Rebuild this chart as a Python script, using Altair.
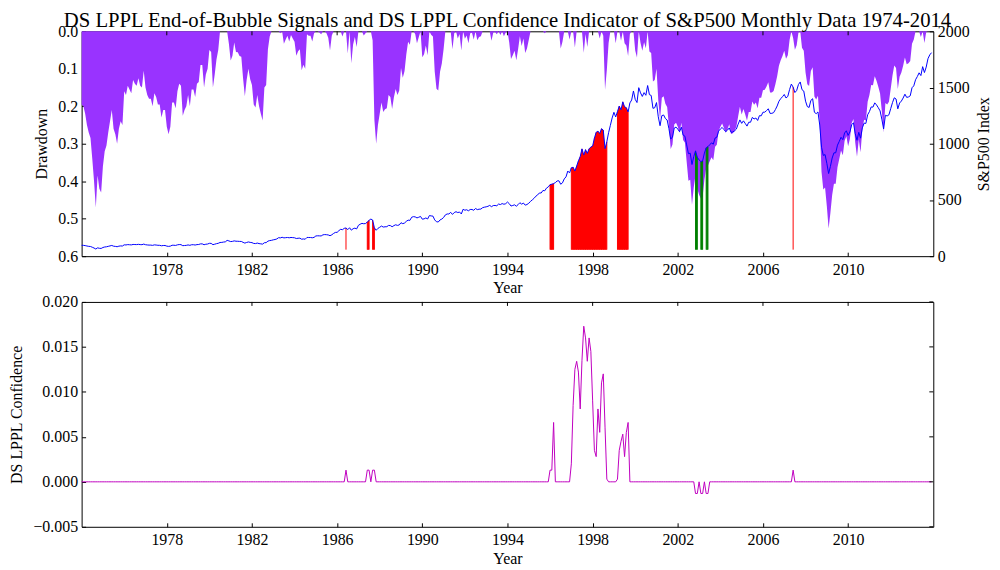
import altair as alt
import pandas as pd

FONT = "Liberation Serif"
START_YEAR = 1974

# ---- S&P500 monthly index, Jan..Dec per row ----
sp500_1974_1983 = [
    96.6, 96.2, 94.0, 90.3, 87.3, 86.0, 79.3, 72.2, 63.5, 73.9, 70.0, 68.6,
    77.0, 81.6, 83.4, 87.3, 91.2, 95.2, 88.8, 86.9, 83.9, 89.0, 91.2, 90.2,
    100.9, 99.7, 102.8, 101.6, 100.2, 104.3, 103.4, 102.9, 105.2, 102.9, 102.1, 107.5,
    102.0, 99.8, 98.4, 98.4, 96.1, 100.5, 98.9, 96.8, 96.5, 92.3, 94.8, 95.1,
    89.3, 87.0, 89.2, 97.0, 97.2, 95.5, 100.7, 103.3, 102.5, 93.2, 94.7, 96.1,
    99.9, 96.3, 101.6, 101.8, 99.1, 102.9, 103.8, 109.3, 109.3, 101.8, 106.2, 107.9,
    114.2, 113.7, 102.1, 106.3, 111.2, 114.2, 121.7, 122.4, 125.5, 127.5, 140.5, 135.8,
    129.6, 131.3, 136.0, 132.8, 132.6, 131.2, 130.9, 122.8, 116.2, 121.9, 126.4, 122.6,
    120.4, 113.1, 112.0, 116.4, 111.9, 109.6, 107.1, 119.5, 120.4, 133.7, 138.5, 140.6,
    145.3, 148.1, 153.0, 164.4, 162.4, 168.1, 162.6, 164.4, 166.1, 163.6, 166.4, 164.9,
]
sp500_1984_1993 = [
    163.4, 157.1, 159.2, 160.1, 150.6, 153.2, 150.7, 166.7, 166.1, 166.1, 163.6, 167.2,
    179.6, 181.2, 180.7, 179.8, 189.6, 191.9, 190.9, 188.6, 182.1, 189.8, 202.2, 211.3,
    211.8, 226.9, 238.9, 235.5, 247.4, 250.8, 236.1, 252.9, 231.3, 244.0, 249.2, 242.2,
    274.1, 284.2, 291.7, 288.4, 290.1, 304.0, 318.7, 329.8, 321.8, 251.8, 230.3, 247.1,
    257.1, 267.8, 258.9, 261.3, 262.2, 273.5, 272.0, 261.5, 271.9, 279.0, 273.7, 277.7,
    297.5, 288.9, 294.9, 309.6, 320.5, 318.0, 346.1, 351.5, 349.2, 340.4, 346.0, 353.4,
    329.1, 331.9, 339.9, 330.8, 361.2, 358.0, 356.2, 322.6, 306.1, 304.0, 322.2, 330.2,
    343.9, 367.1, 375.2, 375.3, 389.8, 371.2, 387.8, 395.4, 387.9, 392.5, 375.2, 417.1,
    408.8, 412.7, 403.7, 415.0, 415.4, 408.1, 424.2, 414.0, 417.8, 418.7, 431.4, 435.7,
    438.8, 443.4, 451.7, 440.2, 450.2, 451.0, 448.1, 463.6, 458.9, 467.8, 461.8, 466.5,
]
sp500_1994_2003 = [
    481.6, 467.1, 445.8, 450.9, 456.5, 444.3, 458.3, 475.5, 462.7, 472.4, 453.7, 459.3,
    470.4, 487.4, 500.7, 514.7, 533.4, 544.8, 562.1, 561.9, 584.4, 581.5, 605.4, 615.9,
    636.0, 640.4, 645.5, 654.2, 669.1, 670.6, 639.9, 652.0, 687.3, 705.3, 757.0, 740.7,
    786.2, 790.8, 757.1, 801.3, 848.3, 885.1, 954.3, 899.5, 947.3, 914.6, 955.4, 970.4,
    980.3, 1049.3, 1101.8, 1111.8, 1090.8, 1133.8, 1120.7, 957.3, 1017.0, 1098.7, 1163.6, 1229.2,
    1279.6, 1238.3, 1286.4, 1335.2, 1301.8, 1372.7, 1328.7, 1320.4, 1282.7, 1362.9, 1389.0, 1469.3,
    1394.5, 1366.4, 1498.6, 1452.4, 1420.6, 1454.6, 1430.8, 1517.7, 1436.5, 1429.4, 1315.0, 1320.3,
    1366.0, 1239.9, 1160.3, 1249.5, 1255.8, 1224.4, 1211.2, 1133.6, 1040.9, 1059.8, 1139.5, 1148.1,
    1130.2, 1106.7, 1147.4, 1076.9, 1067.1, 989.8, 911.6, 916.1, 815.3, 885.8, 936.3, 879.8,
    855.7, 841.2, 848.2, 916.9, 963.6, 974.5, 990.3, 1008.0, 996.0, 1050.7, 1058.2, 1111.9,
]
sp500_2004_2013 = [
    1131.1, 1144.9, 1126.2, 1107.3, 1120.7, 1140.8, 1101.7, 1104.2, 1114.6, 1130.2, 1173.8, 1211.9,
    1181.3, 1203.6, 1180.6, 1156.9, 1191.5, 1191.3, 1234.2, 1220.3, 1228.8, 1207.0, 1249.5, 1248.3,
    1280.1, 1280.7, 1294.8, 1310.6, 1270.1, 1270.2, 1276.7, 1303.8, 1335.9, 1377.9, 1400.6, 1418.3,
    1438.2, 1406.8, 1420.9, 1482.4, 1530.6, 1503.4, 1455.3, 1474.0, 1526.8, 1549.4, 1481.1, 1468.4,
    1378.6, 1330.6, 1322.7, 1385.6, 1400.4, 1280.0, 1267.4, 1282.8, 1166.4, 968.8, 896.2, 903.3,
    825.9, 735.1, 797.9, 872.8, 919.1, 919.3, 987.5, 1020.6, 1057.1, 1036.2, 1095.6, 1115.1,
    1073.9, 1104.5, 1169.4, 1186.7, 1089.4, 1030.7, 1101.6, 1049.3, 1141.2, 1183.3, 1180.6, 1257.6,
    1286.1, 1327.2, 1325.8, 1363.6, 1345.2, 1320.6, 1292.3, 1218.9, 1131.4, 1253.3, 1247.0, 1257.6,
    1312.4, 1365.7, 1408.5, 1397.9, 1310.3, 1362.2, 1379.3, 1406.6, 1440.7, 1412.2, 1416.2, 1426.2,
    1498.1, 1514.7, 1569.2, 1597.6, 1630.7, 1606.3, 1685.7, 1633.0, 1681.6, 1756.5, 1790.0, 1810.0,
]

# ---- Drawdown, Jan..Dec per row ----
drawdown_1974_1983 = [
    0.195, 0.20, 0.22, 0.25, 0.27, 0.285, 0.34, 0.40, 0.47, 0.385, 0.42, 0.43,
    0.36, 0.32, 0.305, 0.27, 0.24, 0.21, 0.26, 0.275, 0.30, 0.26, 0.24, 0.25,
    0.16, 0.17, 0.145, 0.155, 0.165, 0.13, 0.14, 0.145, 0.125, 0.145, 0.15, 0.105,
    0.15, 0.17, 0.18, 0.18, 0.20, 0.165, 0.175, 0.195, 0.195, 0.23, 0.21, 0.21,
    0.255, 0.275, 0.255, 0.19, 0.19, 0.205, 0.16, 0.14, 0.145, 0.225, 0.21, 0.20,
    0.17, 0.20, 0.155, 0.155, 0.175, 0.14, 0.135, 0.09, 0.09, 0.15, 0.115, 0.10,
    0.05, 0.055, 0.15, 0.115, 0.075, 0.05, 0.0, 0.0, 0.0, 0.0, 0.0, 0.033,
    0.078, 0.065, 0.03, 0.055, 0.056, 0.066, 0.068, 0.126, 0.173, 0.13, 0.10, 0.128,
    0.143, 0.195, 0.203, 0.17, 0.20, 0.22, 0.238, 0.15, 0.143, 0.048, 0.014, 0.0,
    0.0, 0.0, 0.0, 0.0, 0.005, 0.0, 0.033, 0.022, 0.012, 0.027, 0.01, 0.019,
]
drawdown_1984_1993 = [
    0.028, 0.065, 0.053, 0.048, 0.104, 0.089, 0.10, 0.008, 0.012, 0.012, 0.027, 0.005,
    0.0, 0.0, 0.003, 0.008, 0.0, 0.0, 0.005, 0.017, 0.051, 0.011, 0.0, 0.0,
    0.0, 0.0, 0.0, 0.014, 0.0, 0.0, 0.059, 0.0, 0.085, 0.035, 0.015, 0.042,
    0.0, 0.0, 0.0, 0.011, 0.005, 0.0, 0.0, 0.0, 0.024, 0.236, 0.30, 0.25,
    0.22, 0.19, 0.215, 0.208, 0.205, 0.17, 0.175, 0.207, 0.176, 0.154, 0.17, 0.158,
    0.098, 0.124, 0.106, 0.061, 0.028, 0.036, 0.0, 0.0, 0.007, 0.032, 0.016, 0.0,
    0.069, 0.061, 0.038, 0.064, 0.0, 0.009, 0.014, 0.107, 0.153, 0.158, 0.108, 0.086,
    0.048, 0.0, 0.0, 0.0, 0.0, 0.048, 0.005, 0.0, 0.019, 0.007, 0.051, 0.0,
    0.02, 0.011, 0.032, 0.005, 0.004, 0.022, 0.0, 0.024, 0.015, 0.013, 0.0, 0.0,
    0.0, 0.0, 0.0, 0.025, 0.003, 0.002, 0.008, 0.0, 0.01, 0.0, 0.013, 0.003,
]
drawdown_1994_2003 = [
    0.0, 0.03, 0.074, 0.064, 0.052, 0.077, 0.048, 0.013, 0.039, 0.019, 0.058, 0.046,
    0.023, 0.0, 0.0, 0.0, 0.0, 0.0, 0.0, 0.0, 0.0, 0.005, 0.0, 0.0,
    0.0, 0.0, 0.0, 0.0, 0.0, 0.0, 0.046, 0.028, 0.0, 0.0, 0.0, 0.022,
    0.0, 0.0, 0.043, 0.0, 0.0, 0.0, 0.0, 0.057, 0.007, 0.042, 0.0, 0.0,
    0.0, 0.0, 0.0, 0.0, 0.019, 0.0, 0.012, 0.156, 0.103, 0.031, 0.0, 0.0,
    0.0, 0.032, 0.0, 0.0, 0.025, 0.0, 0.032, 0.038, 0.066, 0.007, 0.0, 0.0,
    0.051, 0.07, 0.0, 0.031, 0.052, 0.029, 0.045, 0.0, 0.054, 0.058, 0.134, 0.13,
    0.10, 0.183, 0.235, 0.177, 0.173, 0.193, 0.202, 0.253, 0.314, 0.302, 0.249, 0.244,
    0.255, 0.271, 0.244, 0.29, 0.297, 0.348, 0.399, 0.396, 0.463, 0.416, 0.383, 0.42,
    0.436, 0.446, 0.441, 0.396, 0.365, 0.358, 0.347, 0.336, 0.344, 0.308, 0.303, 0.267,
]
drawdown_2004_2013 = [
    0.255, 0.246, 0.258, 0.27, 0.262, 0.248, 0.274, 0.272, 0.266, 0.255, 0.227, 0.201,
    0.222, 0.207, 0.222, 0.238, 0.215, 0.215, 0.187, 0.196, 0.19, 0.205, 0.177, 0.177,
    0.157, 0.156, 0.147, 0.136, 0.163, 0.163, 0.159, 0.141, 0.12, 0.092, 0.077, 0.066,
    0.052, 0.073, 0.064, 0.023, 0.0, 0.018, 0.049, 0.037, 0.003, 0.0, 0.044, 0.052,
    0.11, 0.141, 0.146, 0.106, 0.096, 0.174, 0.182, 0.172, 0.247, 0.375, 0.422, 0.417,
    0.467, 0.526, 0.485, 0.437, 0.407, 0.407, 0.363, 0.341, 0.318, 0.331, 0.293, 0.28,
    0.307, 0.287, 0.245, 0.234, 0.297, 0.335, 0.289, 0.323, 0.263, 0.236, 0.238, 0.188,
    0.17, 0.143, 0.144, 0.12, 0.132, 0.148, 0.166, 0.213, 0.27, 0.191, 0.195, 0.188,
    0.153, 0.118, 0.091, 0.098, 0.154, 0.121, 0.11, 0.092, 0.07, 0.088, 0.085, 0.079,
    0.033, 0.022, 0.0, 0.0, 0.0, 0.015, 0.0, 0.031, 0.002, 0.0, 0.0, 0.0,
]

# ---- DS LPPL confidence (zero in all other months) ----
conf_months = [
    "1986-06", "1987-06", "1987-07", "1987-09", "1987-10",
    "1996-01", "1996-02", "1996-03",
    "1997-01", "1997-02", "1997-03", "1997-04", "1997-05", "1997-06",
    "1997-07", "1997-08", "1997-09", "1997-10", "1997-11", "1997-12",
    "1998-01", "1998-02", "1998-03", "1998-04", "1998-05", "1998-06",
    "1998-07", "1998-08", "1998-09",
    "1999-03", "1999-04", "1999-05", "1999-06", "1999-07", "1999-08", "1999-09",
    "2002-11", "2002-12", "2003-02", "2003-03", "2003-05", "2003-06",
    "2007-06",
]
conf_values = [
    0.0013, 0.0013, 0.0013, 0.0013, 0.0013,
    0.0013, 0.0013, 0.0066,
    0.0020, 0.0085, 0.0125, 0.0134, 0.0122, 0.0081,
    0.0135, 0.0173, 0.0160, 0.0134, 0.0160, 0.0145,
    0.0090, 0.0035, 0.0028, 0.0081, 0.0055, 0.0110,
    0.0120, 0.0060, 0.0003,
    0.0003, 0.0035, 0.0045, 0.0053, 0.0028, 0.0055, 0.0066,
    -0.0013, -0.0013, -0.0013, -0.0013, -0.0013, -0.0013,
    0.0013,
]

year_ticks = [1978, 1982, 1986, 1990, 1994, 1998, 2002, 2006, 2010]
dd_ticks = [0.0, 0.1, 0.2, 0.3, 0.4, 0.5, 0.6]
sp_ticks = [0, 500, 1000, 1500, 2000]
conf_ticks = [-0.005, 0.0, 0.005, 0.010, 0.015, 0.020]
SIGNAL_BASE = 58

TITLE = ("DS LPPL End-of-Bubble Signals and DS LPPL Confidence Indicator "
         "of S&P500 Monthly Data 1974-2014")

# ---- assemble table ----
sp = sp500_1974_1983 + sp500_1984_1993 + sp500_1994_2003 + sp500_2004_2013
dd = drawdown_1974_1983 + drawdown_1984_1993 + drawdown_1994_2003 + drawdown_2004_2013
n = len(sp)
t = [START_YEAR + i / 12.0 for i in range(n)]
conf_map = {}
for m, v in zip(conf_months, conf_values):
    y, mo = m.split("-")
    conf_map[(int(y) - START_YEAR) * 12 + int(mo) - 1] = v
conf = [conf_map.get(i, 0.0) for i in range(n)]
df = pd.DataFrame({"t": t, "price": sp, "dd": dd, "conf": conf})

# contiguous signal runs
sign = [1 if c > 0 else (-1 if c < 0 else 0) for c in conf]
run, rid = [], 0
for i, s in enumerate(sign):
    if i > 0 and s != sign[i - 1]:
        rid += 1
    run.append(rid)
df["run"] = run
df["sign"] = sign
red_df = df[df["sign"] > 0]
green_df = df[df["sign"] < 0]

W, H = 856, 226
ax_common = dict(labelFont=FONT, titleFont=FONT, labelFontSize=16, titleFontSize=16,
                 titleFontWeight="normal", labelColor="black", titleColor="black",
                 tickColor="black", domain=False, grid=False, tickSize=4, offset=-4)

x_axis = alt.Axis(values=year_ticks, format="d", title="Year", labelPadding=5,
                  titlePadding=3, **ax_common)
x_scale = alt.Scale(domain=[1974, 2014], nice=False, zero=False)
X = alt.X("t:Q", scale=x_scale, axis=x_axis)

dd_axis = alt.Axis(values=dd_ticks, format=".1f", title="Drawdown", labelPadding=4,
                   titlePadding=8, **ax_common)
sp_axis = alt.Axis(values=sp_ticks, format="d", title="S&P500 Index", orient="right",
                   labelPadding=4, titlePadding=6, titleAngle=270, titleBaseline="top",
                   **ax_common)
sp_scale = alt.Scale(domain=[0, 2000], nice=False, zero=False)

dd_area = alt.Chart(df).mark_area(color="#9933ff", opacity=1).encode(
    x=X,
    y=alt.Y("dd:Q", scale=alt.Scale(domain=[0, 0.6], reverse=True, nice=False, zero=False),
            axis=dd_axis),
    y2=alt.datum(0),
)

def sig_layers(d, color):
    area = alt.Chart(d).mark_area(color=color, opacity=1).encode(
        x=X, y=alt.Y("price:Q", scale=sp_scale, axis=sp_axis),
        y2=alt.datum(SIGNAL_BASE), detail="run:N")
    rule = alt.Chart(d).mark_rule(color=color, strokeWidth=1).encode(
        x=X, y=alt.Y("price:Q", scale=sp_scale, axis=sp_axis),
        y2=alt.datum(SIGNAL_BASE))
    return [area, rule]

price_line = alt.Chart(df).mark_line(color="#0000ff", strokeWidth=1).encode(
    x=X, y=alt.Y("price:Q", scale=sp_scale, axis=sp_axis))

tick_df = pd.DataFrame({"t": year_ticks})
top_ticks = alt.Chart(tick_df).mark_rule(color="black", strokeWidth=1).encode(
    x=X, y=alt.value(0), y2=alt.value(4))

right_group = alt.layer(*sig_layers(red_df, "#ff0000"), *sig_layers(green_df, "#008000"),
                        price_line, top_ticks)

top = alt.layer(dd_area, right_group).resolve_scale(y="independent").properties(
    width=W, height=H)

# ---- bottom panel ----
conf_axis = alt.Axis(values=conf_ticks, format=".3f", title="DS LPPL Confidence",
                     labelPadding=4, titlePadding=8, **ax_common)
conf_scale = alt.Scale(domain=[-0.005, 0.020], nice=False, zero=False)
conf_line = alt.Chart(df).mark_line(color="#bf00bf", strokeWidth=1).encode(
    x=X, y=alt.Y("conf:Q", scale=conf_scale, axis=conf_axis))
ctick_df = pd.DataFrame({"conf": conf_ticks})
right_ticks = alt.Chart(ctick_df).mark_rule(color="black", strokeWidth=1).encode(
    y=alt.Y("conf:Q", scale=conf_scale, axis=conf_axis),
    x=alt.value(W - 4), x2=alt.value(W))
bottom = alt.layer(conf_line, right_ticks, top_ticks).properties(width=W, height=H)

chart = alt.vconcat(top, bottom, spacing=46, bounds="flush").properties(
    title=alt.TitleParams(TITLE, font=FONT, fontSize=20.8, fontWeight="normal",
                          color="black", anchor="middle", frame="group", offset=-9),
    padding={"left": 0, "top": 0, "right": 0, "bottom": 0},
).configure_view(stroke="black", strokeWidth=1)

chart.save("out.html", embed_options={"renderer": "svg", "actions": False})
